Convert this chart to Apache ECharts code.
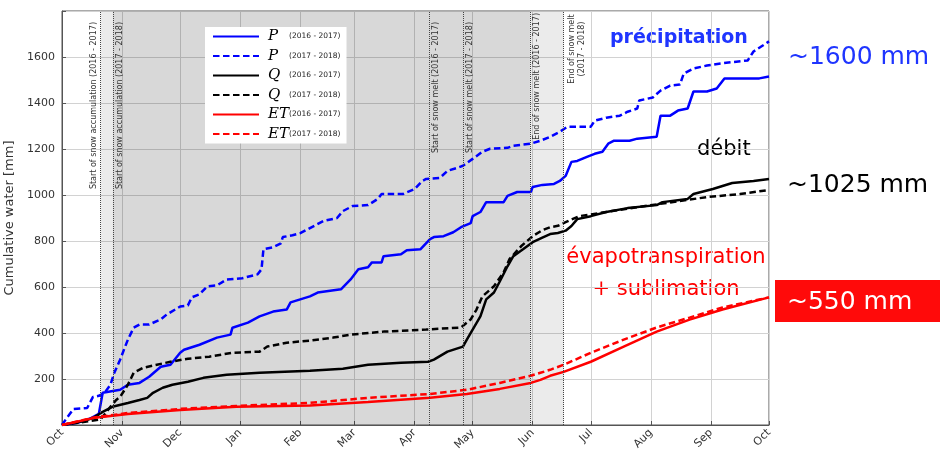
<!DOCTYPE html>
<html>
<head>
<meta charset="utf-8">
<script src="https://cdn.jsdelivr.net/npm/echarts@6/dist/echarts.min.js"></script>
<style>
html, body { margin: 0; padding: 0; background: #fff; }
#chart { width: 940px; height: 464px; }
</style>
</head>
<body>
<div id="chart"></div>
<script>
// water year starts 1 Oct, x values are days since 1 Oct
var monthNames = ['Jan', 'Feb', 'Mar', 'Apr', 'May', 'Jun', 'Jul', 'Aug', 'Sep', 'Oct', 'Nov', 'Dec'];

// [day, cumulative mm]
var precip1617 = [[0,0],[8,10],[15,30],[19,48],[21,140],[30,153],[34,175],[40,183],[45,210],[51,253],[56,262],[61,314],[63,327],[71,349],[80,380],[87,393],[88,423],[96,445],[102,472],[109,493],[116,502],[118,533],[123,546],[128,559],[132,576],[144,590],[149,633],[153,677],[158,686],[160,707],[165,707],[166,734],[175,742],[178,760],[185,764],[190,808],[192,817],[197,821],[202,838],[206,860],[211,878],[212,908],[216,926],[219,969],[228,969],[230,996],[235,1013],[242,1013],[243,1035],[248,1044],[254,1048],[257,1061],[260,1083],[263,1144],[266,1148],[271,1166],[275,1179],[279,1188],[282,1223],[285,1236],[293,1236],[297,1245],[307,1253],[309,1345],[314,1345],[318,1367],[323,1376],[326,1450],[333,1450],[338,1463],[342,1507],[360,1507],[365,1515]];
var precip1718 = [[0,0],[2,25],[6,70],[13,74],[16,122],[19,127],[22,140],[25,175],[27,227],[30,284],[34,371],[37,423],[40,437],[45,437],[51,459],[54,480],[61,515],[65,520],[67,555],[71,568],[75,603],[80,607],[85,633],[93,638],[101,655],[103,677],[104,764],[109,773],[113,790],[114,817],[119,825],[123,834],[128,856],[135,887],[142,900],[145,930],[150,952],[158,956],[163,983],[165,1004],[176,1004],[182,1026],[186,1061],[188,1070],[195,1074],[199,1105],[204,1118],[207,1127],[212,1157],[217,1188],[221,1201],[230,1205],[233,1214],[242,1223],[247,1236],[252,1253],[257,1275],[261,1297],[273,1297],[275,1323],[281,1336],[288,1345],[292,1362],[297,1376],[298,1411],[305,1424],[309,1454],[314,1476],[319,1480],[321,1528],[326,1550],[333,1563],[340,1572],[354,1585],[357,1624],[362,1651],[365,1668]];
var flow1617 = [[0,0],[10,15],[16,30],[21,57],[26,79],[34,96],[40,109],[44,118],[47,140],[52,162],[57,175],[65,188],[73,205],[85,218],[102,227],[128,236],[145,245],[158,262],[175,271],[189,275],[192,284],[199,319],[207,341],[209,371],[212,415],[216,472],[219,546],[223,576],[226,624],[230,690],[233,734],[238,764],[243,795],[248,815],[252,830],[256,835],[260,845],[263,865],[266,895],[273,908],[281,926],[292,943],[307,956],[310,969],[323,983],[326,1004],[336,1026],[346,1052],[357,1061],[365,1070]];
var flow1718 = [[0,0],[10,12],[20,25],[25,79],[28,109],[30,122],[34,175],[37,227],[42,249],[49,262],[56,275],[65,288],[76,297],[88,314],[102,319],[106,341],[116,358],[128,367],[140,380],[149,393],[166,406],[188,415],[206,424],[207,428],[211,459],[214,502],[217,559],[223,603],[228,664],[231,721],[237,777],[243,821],[248,847],[252,860],[256,866],[260,882],[267,908],[281,926],[298,948],[319,974],[333,991],[350,1004],[365,1022]];
var et1617 = [[0,0],[16,30],[34,48],[61,65],[90,79],[128,85],[158,100],[190,118],[209,135],[226,157],[242,183],[247,196],[252,214],[259,231],[273,275],[290,341],[307,406],[324,458],[341,502],[365,555]];
var et1718 = [[0,0],[16,32],[34,52],[61,70],[90,83],[128,96],[158,118],[190,135],[209,153],[226,183],[242,214],[247,227],[252,240],[259,262],[273,314],[290,371],[307,424],[324,467],[341,511],[365,555]];

// snow periods (days since 1 Oct)
var accumStart = [20, 26.3];   // 2016-2017, 2017-2018
var meltStart = [189.5, 207];
var meltEnd = [241.6, 259];

var yTicks = [200, 400, 600, 800, 1000, 1200, 1400, 1600];

var DAY = 86400000;
var t0 = new Date(2016, 9, 1).getTime();
function t(d) { return t0 + d * DAY; }
function toTime(arr) { return arr.map(function (p) { return [t(p[0]), p[1]]; }); }

var blue = '#0000ff', black = '#000000', red = '#ff0000';
var dash = [6.5, 3.5];

var legendText = {
    P1617: ['P', '(2016 - 2017)'], P1718: ['P', '(2017 - 2018)'],
    Q1617: ['Q', '(2016 - 2017)'], Q1718: ['Q', '(2017 - 2018)'],
    ET1617: ['ET', '(2016 - 2017)'], ET1718: ['ET', '(2017 - 2018)']
};

function line(name, data, color, dashed) {
    return {
        name: name,
        type: 'line',
        data: toTime(data),
        symbol: 'none',
        lineStyle: { color: color, width: 2.5, type: dashed ? dash : 'solid' },
        itemStyle: { color: color }
    };
}

var vLabel = { show: true, fontSize: 8, color: '#333', fontFamily: 'DejaVu Sans' };

var sP1617 = line('P1617', precip1617, blue, false);
sP1617.markArea = {
    silent: true,
    itemStyle: { color: 'rgba(0,0,0,0.08)' },
    data: [[{ xAxis: t(accumStart[0]) }, { xAxis: t(meltEnd[0]) }]]
};
sP1617.markLine = {
    silent: true,
    symbol: ['none', 'none'],
    lineStyle: { type: 'dotted', color: '#444', width: 1 },
    data: [
        { xAxis: t(accumStart[0]), label: Object.assign({}, vLabel, { position: 'insideEndTop', distance: [11, 3], formatter: 'Start of snow accumulation (2016 - 2017)' }) },
        { xAxis: t(accumStart[1]), label: Object.assign({}, vLabel, { position: 'insideEndBottom', distance: [11, 3], formatter: 'Start of snow accumulation (2017 - 2018)' }) },
        { xAxis: t(meltStart[0]), label: Object.assign({}, vLabel, { position: 'insideEndBottom', distance: [11, 3], formatter: 'Start of snow melt (2016 - 2017)' }) },
        { xAxis: t(meltStart[1]), label: Object.assign({}, vLabel, { position: 'insideEndBottom', distance: [11, 3], formatter: 'Start of snow melt (2017 - 2018)' }) },
        { xAxis: t(meltEnd[0]), label: Object.assign({}, vLabel, { position: 'insideEndBottom', distance: [2, 3], formatter: 'End of snow melt (2016 - 2017)' }) },
        { xAxis: t(meltEnd[1]), label: Object.assign({}, vLabel, { position: 'insideEndBottom', distance: [2, 3], formatter: '{a|End of snow melt}\n{a|(2017 - 2018)}', rich: { a: { width: 72, align: 'center', fontSize: 8, color: '#333', lineHeight: 10 } } }) }
    ]
};
var sP1718 = line('P1718', precip1718, blue, true);
sP1718.markArea = {
    silent: true,
    itemStyle: { color: 'rgba(0,0,0,0.08)' },
    data: [[{ xAxis: t(accumStart[1]) }, { xAxis: t(meltEnd[1]) }]]
};

var chart = echarts.init(document.getElementById('chart'));
chart.setOption({
    animation: false,
    backgroundColor: '#fff',
    grid: { left: 62, right: 171, top: 11, bottom: 39, show: true, borderColor: '#555', borderWidth: 1, containLabel: false, outerBoundsMode: 'none' },
    legend: {
        orient: 'vertical',
        left: 205, top: 27,
        padding: [2, 6, 2, 7],
        backgroundColor: '#fff',
        itemWidth: 46, itemHeight: 14, itemGap: 4.5,
        itemStyle: { opacity: 0 },
        data: ['P1617', 'P1718', 'Q1617', 'Q1718', 'ET1617', 'ET1718'],
        formatter: function (name) {
            var l = legendText[name];
            return '{s|' + l[0] + '}{y|' + l[1] + '}';
        },
        textStyle: {
            rich: {
                s: { fontFamily: 'DejaVu Serif', fontStyle: 'italic', fontSize: 15, color: '#000', width: 21, padding: [0, 0, 0, 4], lineHeight: 14 },
                y: { fontFamily: 'DejaVu Sans', fontSize: 7.5, color: '#222', lineHeight: 14 }
            }
        }
    },
    xAxis: {
        type: 'time',
        min: t(0), max: t(365),
        splitNumber: 12,
        minInterval: 28 * DAY, maxInterval: 31 * DAY,
        axisLine: { lineStyle: { color: '#555' } },
        axisTick: { inside: true, length: 4, lineStyle: { color: '#555' } },
        axisLabel: {
            rotate: 45, fontSize: 11, color: '#333', fontFamily: 'DejaVu Sans', margin: 6,
            showMinLabel: true, showMaxLabel: true,
            formatter: function (v) { return monthNames[new Date(v).getMonth()]; }
        },
        splitLine: { show: true, lineStyle: { color: '#d2d2d2', width: 1 } }
    },
    yAxis: {
        type: 'value',
        min: 0, max: 1800, interval: 200,
        name: 'Cumulative water [mm]',
        nameLocation: 'middle', nameGap: 44,
        nameTextStyle: { fontSize: 13, color: '#333', fontFamily: 'DejaVu Sans' },
        axisLine: { show: true, lineStyle: { color: '#555' } },
        axisTick: { show: true, inside: true, length: 4, lineStyle: { color: '#555' } },
        axisLabel: {
            fontSize: 11, color: '#333', fontFamily: 'DejaVu Sans', margin: 7,
            formatter: function (v) { return yTicks.indexOf(v) >= 0 ? String(v) : ''; }
        },
        splitLine: { show: true, lineStyle: { color: '#d2d2d2', width: 1 } }
    },
    graphic: [
        { type: 'text', x: 610, y: 38, style: { text: 'précipitation', fill: '#1f35ff', fontSize: 19, fontWeight: 'bold', fontFamily: 'DejaVu Sans', verticalAlign: 'middle' } },
        { type: 'text', x: 788, y: 57, style: { text: '~1600 mm', fill: '#1f35ff', fontSize: 25, fontFamily: 'DejaVu Sans', verticalAlign: 'middle' } },
        { type: 'text', x: 697, y: 150, style: { text: 'débit', fill: '#000', fontSize: 21, fontFamily: 'DejaVu Sans', verticalAlign: 'middle' } },
        { type: 'text', x: 787, y: 185, style: { text: '~1025 mm', fill: '#000', fontSize: 25, fontFamily: 'DejaVu Sans', verticalAlign: 'middle' } },
        { type: 'text', x: 666, y: 258, style: { text: 'évapotranspiration', fill: '#ff0000', fontSize: 21, fontFamily: 'DejaVu Sans', align: 'center', verticalAlign: 'middle' } },
        { type: 'text', x: 666, y: 290, style: { text: '+ sublimation', fill: '#ff0000', fontSize: 21, fontFamily: 'DejaVu Sans', align: 'center', verticalAlign: 'middle' } },
        { type: 'rect', shape: { x: 775, y: 280, width: 165, height: 42 }, style: { fill: '#ff0a0a' } },
        { type: 'text', x: 787, y: 302, style: { text: '~550 mm', fill: '#fff', fontSize: 25, fontFamily: 'DejaVu Sans', verticalAlign: 'middle' } }
    ],
    series: [
        sP1617,
        sP1718,
        line('Q1617', flow1617, black, false),
        line('Q1718', flow1718, black, true),
        line('ET1617', et1617, red, false),
        line('ET1718', et1718, red, true)
    ]
});
</script>
</body>
</html>
